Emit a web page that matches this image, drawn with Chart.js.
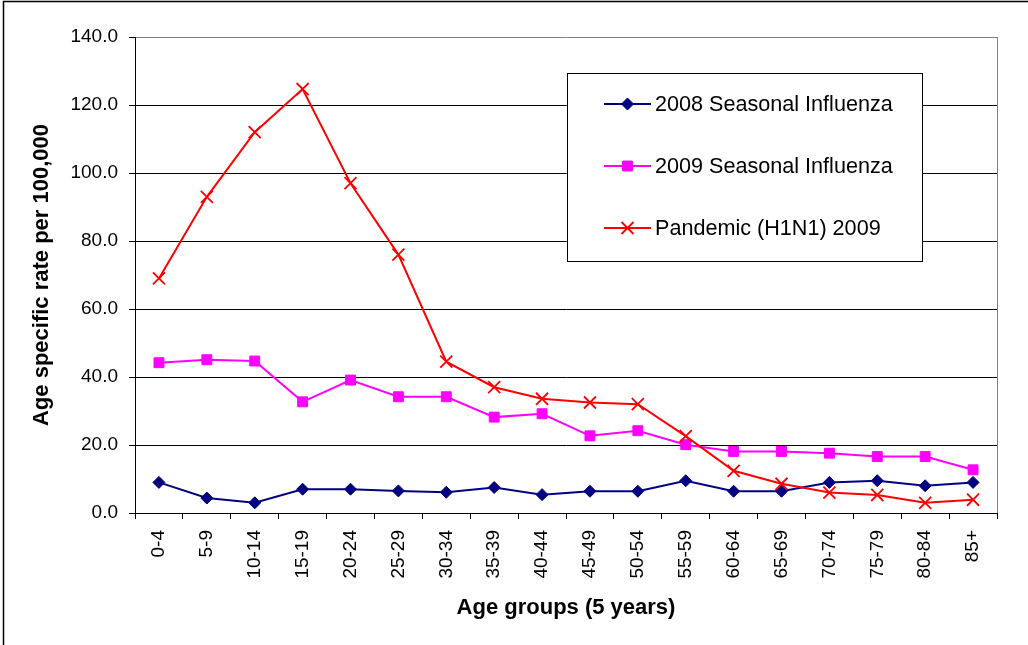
<!DOCTYPE html>
<html>
<head>
<meta charset="utf-8">
<title>Age specific rates of influenza</title>
<script src="https://cdn.jsdelivr.net/npm/chart.js@4.4.1/dist/chart.umd.min.js"></script>
<style>
  html, body { margin: 0; padding: 0; background: #ffffff; }
  canvas { display: block; }
</style>
</head>
<body>
<canvas id="chart" width="1028" height="645"></canvas>
<script>
// Age groups on the x axis
const ageGroups = ['0-4', '5-9', '10-14', '15-19', '20-24', '25-29', '30-34', '35-39', '40-44',
                   '45-49', '50-54', '55-59', '60-64', '65-69', '70-74', '75-79', '80-84', '85+'];

// Age specific rate per 100,000, one value per age group
const seasonal2008 = [9.0, 4.4, 3.0, 7.0, 7.0, 6.5, 6.1, 7.5, 5.4, 6.4, 6.4, 9.5, 6.4, 6.4, 9.0, 9.5, 8.0, 9.0];
const seasonal2009 = [44.2, 45.1, 44.7, 32.7, 39.1, 34.2, 34.2, 28.2, 29.2, 22.7, 24.2, 20.1, 18.1, 18.1, 17.6, 16.6, 16.6, 12.7];
const pandemic2009 = [69.0, 93.0, 112.0, 124.7, 97.0, 76.0, 44.5, 37.0, 33.6, 32.5, 32.0, 22.6, 12.4, 8.6, 6.0, 5.3, 3.0, 3.9];

const seriesNames = ['2008 Seasonal Influenza', '2009 Seasonal Influenza', 'Pandemic (H1N1) 2009'];

// Value axis range
const yMin = 0;
const yMax = 140;
const yStep = 20;

const FONT = '"Liberation Sans", Arial, Helvetica, sans-serif';

// Page frame and the grey right edge of the plot area
const framePlugin = {
  id: 'frame',
  beforeDraw(chart) {
    const ctx = chart.ctx;
    ctx.save();
    ctx.fillStyle = '#ffffff';
    ctx.fillRect(0, 0, chart.width, chart.height);
    ctx.strokeStyle = '#000000';
    ctx.lineWidth = 1.5;
    ctx.beginPath();
    ctx.moveTo(3.5, chart.height);
    ctx.lineTo(3.5, 1.5);
    ctx.lineTo(chart.width, 1.5);
    ctx.stroke();
    ctx.restore();
  },
  afterDatasetsDraw(chart) {
    const ctx = chart.ctx;
    const a = chart.chartArea;
    ctx.save();
    ctx.strokeStyle = '#808080';
    ctx.lineWidth = 1;
    ctx.beginPath();
    ctx.moveTo(Math.round(a.right) + 0.5, a.top);
    ctx.lineTo(Math.round(a.right) + 0.5, a.bottom);
    ctx.stroke();
    ctx.restore();
  }
};

// Boxed legend with a line sample and marker for each series
const boxLegendPlugin = {
  id: 'boxLegend',
  afterDraw(chart) {
    const ctx = chart.ctx;
    const box = { x: 567.5, y: 73.5, w: 355, h: 188 };
    ctx.save();
    ctx.fillStyle = '#ffffff';
    ctx.fillRect(box.x, box.y, box.w, box.h);
    ctx.strokeStyle = '#000000';
    ctx.lineWidth = 1;
    ctx.strokeRect(box.x, box.y, box.w, box.h);

    chart.data.datasets.forEach((ds, i) => {
      const y = 104 + i * 62;
      ctx.strokeStyle = ds.borderColor;
      ctx.lineWidth = ds.borderWidth;
      ctx.beginPath();
      ctx.moveTo(604, y);
      ctx.lineTo(651, y);
      ctx.stroke();

      ctx.fillStyle = ds.pointBackgroundColor;
      ctx.strokeStyle = ds.pointBorderColor;
      ctx.lineWidth = ds.pointBorderWidth;
      Chart.helpers.drawPoint(ctx, {
        pointStyle: ds.pointStyle,
        radius: ds.pointRadius,
        borderWidth: ds.pointBorderWidth,
        rotation: 0
      }, 627.5, y);

      ctx.fillStyle = '#000000';
      ctx.font = '21.6px ' + FONT;
      ctx.textAlign = 'left';
      ctx.textBaseline = 'middle';
      ctx.fillText(ds.label, 655, y + 1);
    });
    ctx.restore();
  }
};

const ctx = document.getElementById('chart').getContext('2d');

new Chart(ctx, {
  type: 'line',
  data: {
    labels: ageGroups,
    datasets: [
      {
        label: seriesNames[0],
        data: seasonal2008,
        borderColor: '#000080',
        backgroundColor: '#000080',
        pointBackgroundColor: '#000080',
        pointBorderColor: '#000080',
        borderWidth: 2,
        pointStyle: 'rectRot',
        pointRadius: 6,
        pointBorderWidth: 1,
        tension: 0,
        order: 3
      },
      {
        label: seriesNames[1],
        data: seasonal2009,
        borderColor: '#FF00FF',
        backgroundColor: '#FF00FF',
        pointBackgroundColor: '#FF00FF',
        pointBorderColor: '#FF00FF',
        borderWidth: 2,
        pointStyle: 'rect',
        pointRadius: 7,
        pointBorderWidth: 1,
        tension: 0,
        order: 2
      },
      {
        label: seriesNames[2],
        data: pandemic2009,
        borderColor: '#FF0000',
        backgroundColor: '#FF0000',
        pointBackgroundColor: '#FF0000',
        pointBorderColor: '#FF0000',
        borderWidth: 2,
        pointStyle: 'crossRot',
        pointRadius: 8.5,
        pointBorderWidth: 1.8,
        tension: 0,
        order: 1
      }
    ]
  },
  options: {
    responsive: false,
    animation: false,
    devicePixelRatio: 1,
    events: [],
    layout: { padding: { left: 0, top: 37, right: 31, bottom: 0 } },
    plugins: {
      legend: { display: false },
      tooltip: { enabled: false },
      title: { display: false }
    },
    scales: {
      x: {
        type: 'category',
        offset: true,
        afterFit(scale) { scale.height = 132; },
        grid: {
          display: true,
          drawOnChartArea: false,
          drawTicks: true,
          offset: true,
          tickLength: 6,
          tickColor: '#000000',
          tickWidth: 1
        },
        border: { display: true, color: '#000000', width: 1 },
        ticks: {
          autoSkip: false,
          maxRotation: 90,
          minRotation: 90,
          padding: 11,
          color: '#000000',
          font: { family: FONT, size: 19 }
        },
        title: {
          display: true,
          text: 'Age groups (5 years)',
          color: '#000000',
          font: { family: FONT, size: 22, weight: 'bold' },
          padding: { top: 0, bottom: 24 }
        }
      },
      y: {
        min: yMin,
        max: yMax,
        afterFit(scale) { scale.width = 135; },
        grid: {
          color: (c) => (c.tick && c.tick.value === yMax ? '#808080' : '#000000'),
          lineWidth: 1,
          drawTicks: true,
          tickLength: 6,
          tickColor: '#000000',
          tickWidth: 1
        },
        border: { display: true, color: '#000000', width: 1 },
        ticks: {
          stepSize: yStep,
          padding: 11,
          color: '#000000',
          font: { family: FONT, size: 19 },
          callback: (v) => Number(v).toFixed(1)
        },
        title: {
          display: true,
          text: 'Age specific rate per 100,000',
          color: '#000000',
          font: { family: FONT, size: 22, weight: 'bold' },
          padding: { top: 29, bottom: 0 }
        }
      }
    }
  },
  plugins: [framePlugin, boxLegendPlugin]
});
</script>
</body>
</html>
